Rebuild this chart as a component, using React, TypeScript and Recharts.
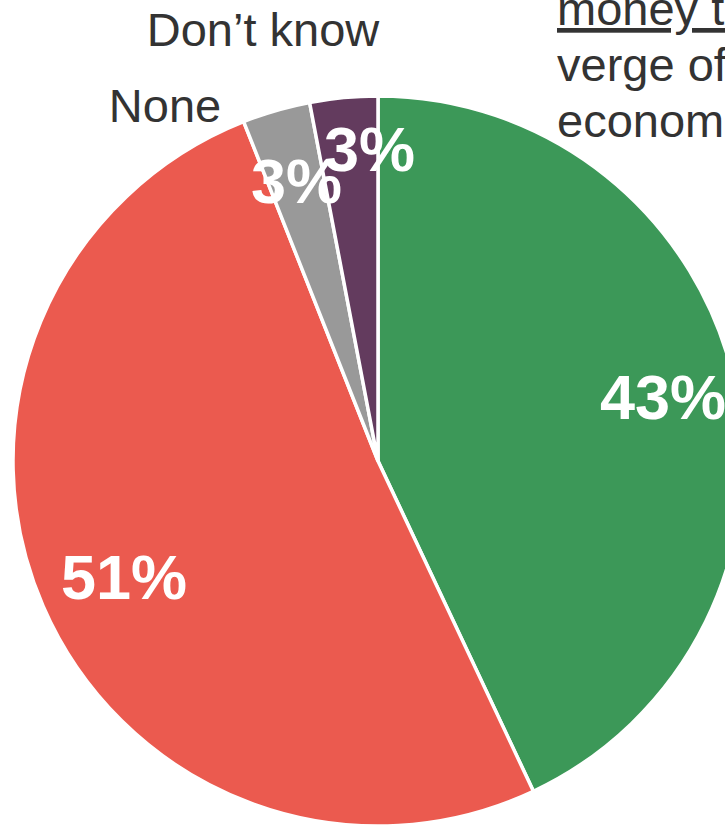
import { PieChart, Pie, Cell } from "recharts";

// slices, clockwise from 12 o'clock
const categories = ["Yes", "No", "None", "Don't know"];
const shares = [43, 51, 3, 3];

// cropped annotation text at the top right
const noteLines = ["money to", "verge of", "economic"];

const COLORS = ["#3c9858", "#eb5a4f", "#999999", "#633b5e"];
const FONT = '"Liberation Sans", Arial, Helvetica, sans-serif';
const RADIAN = Math.PI / 180;

// small hand nudges, the original moved a few labels off the radial line
const LABEL_NUDGE: Record<string, [number, number]> = {
  No: [14, 0],
  "Don't know": [19, -21],
};

const data = categories.map((name, i) => ({ name, value: shares[i] }));

// eslint-disable-next-line @typescript-eslint/no-explicit-any
function renderPercent(props: any) {
  const { cx, cy, midAngle, outerRadius, value, name } = props;
  const r = outerRadius * 0.8;
  const nudge = LABEL_NUDGE[name] ?? [0, 0];
  const x = cx + r * Math.cos(-midAngle * RADIAN) + nudge[0];
  const y = cy + r * Math.sin(-midAngle * RADIAN) + nudge[1];
  return (
    <text
      x={x}
      y={y}
      fill="#ffffff"
      textAnchor="middle"
      dominantBaseline="central"
      style={{ fontFamily: FONT, fontSize: 63, fontWeight: 700 }}
    >
      {`${value}%`}
    </text>
  );
}

export default function App() {
  return (
    <div style={{ position: "absolute", left: 0, top: 0, width: 725, height: 826, overflow: "hidden", background: "#fff" }}>
      <PieChart width={725} height={826} margin={{ top: 0, right: 0, bottom: 0, left: 0 }}>
        <Pie
          data={data}
          dataKey="value"
          nameKey="name"
          cx={378}
          cy={461}
          outerRadius={365}
          startAngle={90}
          endAngle={-270}
          stroke="#ffffff"
          strokeWidth={3.5}
          labelLine={false}
          label={renderPercent}
          isAnimationActive={false}
        >
          {data.map((d, i) => (
            <Cell key={d.name} fill={COLORS[i]} />
          ))}
        </Pie>
      </PieChart>
      <svg
        width={725}
        height={826}
        style={{ position: "absolute", left: 0, top: 0, pointerEvents: "none" }}
      >
        <g style={{ fontFamily: FONT, fontSize: 47 }} fill="#333333">
          <text x={263} y={46} textAnchor="middle">Don’t know</text>
          <text x={165} y={122} textAnchor="middle">None</text>
          {noteLines.map((line, i) => (
            <text
              key={line}
              x={557}
              y={25 + i * 56}
              style={i === 0 ? { textDecoration: "underline" } : undefined}
            >
              {line}
            </text>
          ))}
        </g>
      </svg>
    </div>
  );
}
